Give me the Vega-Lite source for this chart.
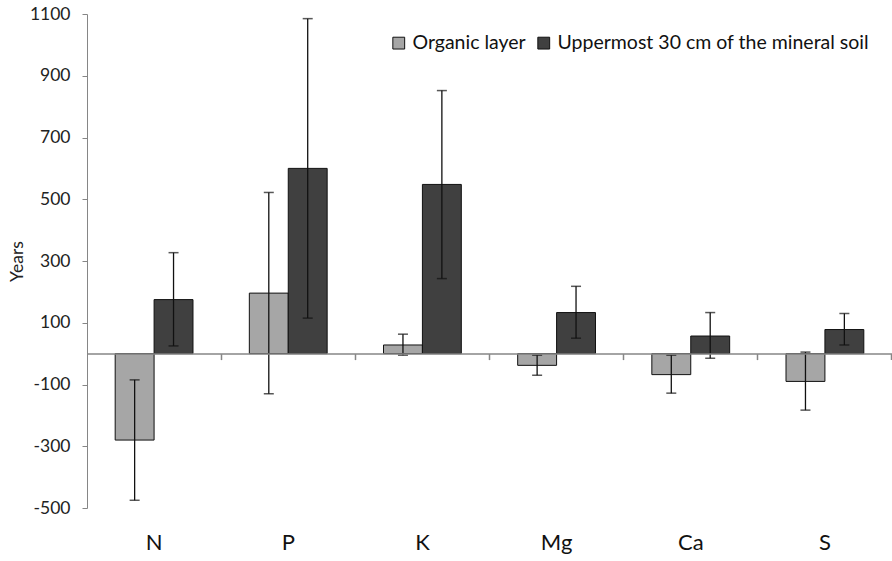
{
  "$schema": "https://vega.github.io/schema/vega-lite/v6.json",
  "autosize": "none",
  "width": 805,
  "height": 494,
  "padding": {"left": 87, "top": 14, "right": 0, "bottom": 53},
  "background": "white",
  "config": {
    "view": {"stroke": null},
    "font": "Lato",
    "axis": {"labelFont": "Lato", "titleFont": "Lato", "labelColor": "#222222", "titleColor": "#222222"}
  },
  "data": {
    "values": [
      {"element": "N", "layer": "Organic layer", "value": -280, "lo": -475, "hi": -85},
      {"element": "N", "layer": "Uppermost 30 cm of the mineral soil", "value": 175, "lo": 25, "hi": 327},
      {"element": "P", "layer": "Organic layer", "value": 196, "lo": -130, "hi": 522},
      {"element": "P", "layer": "Uppermost 30 cm of the mineral soil", "value": 600, "lo": 115, "hi": 1085},
      {"element": "K", "layer": "Organic layer", "value": 28, "lo": -5, "hi": 63},
      {"element": "K", "layer": "Uppermost 30 cm of the mineral soil", "value": 548, "lo": 243, "hi": 852},
      {"element": "Mg", "layer": "Organic layer", "value": -38, "lo": -70, "hi": -5},
      {"element": "Mg", "layer": "Uppermost 30 cm of the mineral soil", "value": 133, "lo": 50, "hi": 218},
      {"element": "Ca", "layer": "Organic layer", "value": -68, "lo": -128, "hi": -5},
      {"element": "Ca", "layer": "Uppermost 30 cm of the mineral soil", "value": 57, "lo": -15, "hi": 133},
      {"element": "S", "layer": "Organic layer", "value": -90, "lo": -183, "hi": 5},
      {"element": "S", "layer": "Uppermost 30 cm of the mineral soil", "value": 78, "lo": 28, "hi": 130}
    ]
  },
  "resolve": {"axis": {"x": "independent"}},
  "layer": [
    {
      "mark": {"type": "bar", "stroke": "#111111", "strokeWidth": 1},
      "encoding": {
        "x": {
          "field": "element", "type": "nominal", "sort": ["N", "P", "K", "Mg", "Ca", "S"],
          "scale": {"paddingInner": 0.42, "paddingOuter": 0.21},
          "axis": {"orient": "bottom", "title": null, "domain": false, "ticks": false, "labelAngle": 0, "labelFontSize": 22, "labelPadding": 24, "labelColor": "#111111"}
        },
        "xOffset": {"field": "layer", "type": "nominal", "sort": ["Organic layer", "Uppermost 30 cm of the mineral soil"], "scale": {"paddingInner": 0, "paddingOuter": 0}},
        "y": {
          "field": "value", "type": "quantitative",
          "scale": {"domain": [-500, 1100], "nice": false, "zero": false},
          "axis": {"title": "Years", "titleFontSize": 17.5, "titleFontWeight": "normal", "titlePadding": 3, "values": [-500, -300, -100, 100, 300, 500, 700, 900, 1100], "labelExpr": "'' + datum.value", "grid": false, "domainColor": "#868686", "tickColor": "#868686", "tickSize": 5, "labelFontSize": 17.5, "labelPadding": 12}
        },
        "color": {
          "field": "layer", "type": "nominal",
          "sort": ["Organic layer", "Uppermost 30 cm of the mineral soil"],
          "scale": {"domain": ["Organic layer", "Uppermost 30 cm of the mineral soil"], "range": ["#a6a6a6", "#404040"]},
          "legend": {"title": null, "orient": "none", "direction": "horizontal", "legendX": 302, "legendY": 19, "symbolType": "square", "symbolSize": 140, "symbolStrokeColor": "#111111", "symbolStrokeWidth": 1, "symbolOpacity": 1, "labelFontSize": 19.5, "labelLimit": 0, "labelColor": "#111111", "columnPadding": 8, "labelOffset": 4}
        }
      }
    },
    {
      "mark": {"type": "rule", "color": "#111111", "strokeWidth": 1.3},
      "encoding": {
        "x": {
          "field": "element", "type": "nominal", "sort": ["N", "P", "K", "Mg", "Ca", "S"],
          "axis": {"orient": "bottom", "offset": -154.4, "title": null, "labels": false, "domain": true, "domainColor": "#868686", "domainWidth": 1.5, "ticks": true, "tickColor": "#868686", "tickSize": 6, "tickWidth": 1.5, "bandPosition": 1.362, "zindex": 1}
        },
        "xOffset": {"field": "layer", "type": "nominal", "sort": ["Organic layer", "Uppermost 30 cm of the mineral soil"]},
        "y": {"field": "lo", "type": "quantitative"},
        "y2": {"field": "hi"}
      }
    },
    {
      "mark": {"type": "tick", "color": "#111111", "thickness": 1.5, "size": 10, "orient": "horizontal"},
      "encoding": {
        "x": {"field": "element", "type": "nominal", "sort": ["N", "P", "K", "Mg", "Ca", "S"], "axis": null},
        "xOffset": {"field": "layer", "type": "nominal", "sort": ["Organic layer", "Uppermost 30 cm of the mineral soil"]},
        "y": {"field": "lo", "type": "quantitative"}
      }
    },
    {
      "mark": {"type": "tick", "color": "#111111", "thickness": 1.5, "size": 10, "orient": "horizontal"},
      "encoding": {
        "x": {"field": "element", "type": "nominal", "sort": ["N", "P", "K", "Mg", "Ca", "S"], "axis": null},
        "xOffset": {"field": "layer", "type": "nominal", "sort": ["Organic layer", "Uppermost 30 cm of the mineral soil"]},
        "y": {"field": "hi", "type": "quantitative"}
      }
    }
  ]
}
